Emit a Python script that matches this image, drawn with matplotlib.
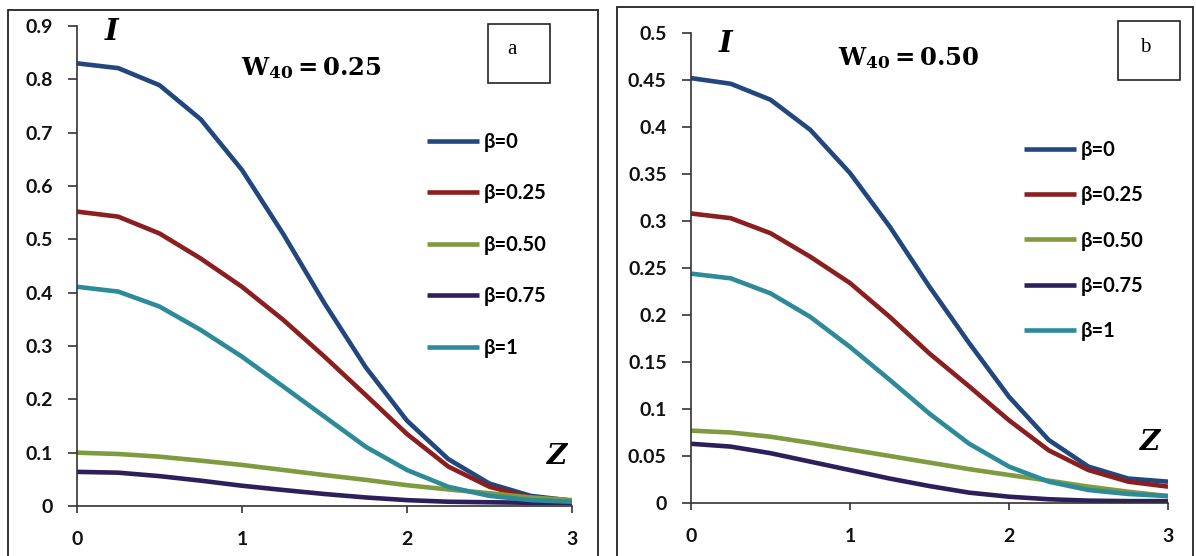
import numpy as np
import matplotlib.pyplot as plt
from matplotlib.patches import Rectangle
from matplotlib.ticker import FuncFormatter

plt.rcParams['mathtext.fontset'] = 'dejavuserif'

# values, z = 0 .. 3 in steps of 0.25
z = [0, 0.25, 0.5, 0.75, 1.0, 1.25, 1.5, 1.75, 2.0, 2.25, 2.5, 2.75, 3.0]
labels = ["β=0", "β=0.25", "β=0.50", "β=0.75", "β=1"]
colors = ['#22467e', '#8b1e1e', '#7e9b3f', '#2d1f5a', '#2d8a99']

# panel a: W40 = 0.25
a_b0 = [0.830, 0.821, 0.789, 0.725, 0.630, 0.510, 0.380, 0.260, 0.160, 0.088, 0.042, 0.019, 0.010]
a_b025 = [0.552, 0.5425, 0.511, 0.464, 0.411, 0.349, 0.280, 0.208, 0.135, 0.074, 0.036, 0.016, 0.010]
a_b050 = [0.100, 0.0975, 0.0925, 0.085, 0.077, 0.0675, 0.058, 0.049, 0.039, 0.031, 0.024, 0.016, 0.011]
a_b075 = [0.064, 0.0625, 0.056, 0.0475, 0.038, 0.030, 0.0225, 0.016, 0.011, 0.008, 0.007, 0.006, 0.006]
a_b1 = [0.411, 0.402, 0.374, 0.330, 0.280, 0.224, 0.1675, 0.111, 0.0675, 0.036, 0.019, 0.011, 0.008]

# panel b: W40 = 0.50
b_b0 = [0.452, 0.446, 0.429, 0.397, 0.351, 0.294, 0.230, 0.170, 0.113, 0.067, 0.0387, 0.026, 0.0227]
b_b025 = [0.308, 0.303, 0.287, 0.262, 0.234, 0.198, 0.159, 0.124, 0.088, 0.056, 0.035, 0.0227, 0.0174]
b_b050 = [0.077, 0.075, 0.0705, 0.064, 0.057, 0.050, 0.043, 0.036, 0.0298, 0.0238, 0.0174, 0.012, 0.0074]
b_b075 = [0.063, 0.060, 0.053, 0.044, 0.035, 0.026, 0.018, 0.011, 0.0067, 0.004, 0.0025, 0.002, 0.002]
b_b1 = [0.244, 0.239, 0.223, 0.198, 0.166, 0.131, 0.095, 0.063, 0.0387, 0.0227, 0.0138, 0.0096, 0.0074]

panels = [
    dict(series=[a_b0, a_b025, a_b050, a_b075, a_b1], ymax=0.9, ystep=0.1,
         title=r'$\mathbf{W_{40}=0.25}$', tag='a',
         pos=[77/1196, 1-506/556, 495/1196, 480/556],
         frame=(8, 10, 598), leg=(0.707, 0.78), lspace=1.57,
         tpos=(311, 68), ipos=(112, 32), zpos=(557, 457), box=(488, 24), tagpos=(512, 50)),
    dict(series=[b_b0, b_b025, b_b050, b_b075, b_b1], ymax=0.5, ystep=0.05,
         title=r'$\mathbf{W_{40}=0.50}$', tag='b',
         pos=[691/1196, 1-503/556, 477/1196, 470/556],
         frame=(617, 7, 1193), leg=(0.698, 0.772), lspace=1.25,
         tpos=(909, 58), ipos=(726, 43), zpos=(1150, 443), box=(1118, 21), tagpos=(1145, 48)),
]

W, H = 1196, 556
fig = plt.figure(figsize=(W/100, H/100), dpi=100)

for p in panels:
    # outer frame of the panel
    x0, y0, x1 = p['frame']
    fig.patches.append(Rectangle((x0/W, -0.05), (x1-x0)/W, 1.05-y0/H, transform=fig.transFigure,
                                 fill=False, edgecolor='#222222', lw=1.3))
    ax = fig.add_axes(p['pos'])
    for s, c, lab in zip(p['series'], colors, labels):
        ax.plot(z, s, color=c, lw=3.3, label=lab, solid_capstyle='butt', solid_joinstyle='round')
    ax.set_xlim(0, 3)
    ax.set_ylim(0, p['ymax'])
    ax.set_xticks([0, 1, 2, 3])
    ax.set_yticks(np.arange(0, p['ymax'] + 1e-9, p['ystep']))
    ax.yaxis.set_major_formatter(FuncFormatter(lambda v, pos: ('%.2f' % v).rstrip('0').rstrip('.') if v else '0'))
    for side in ['top', 'right']:
        ax.spines[side].set_visible(False)
    for side in ['left', 'bottom']:
        ax.spines[side].set_color('#333333')
        ax.spines[side].set_linewidth(1.2)
    ax.tick_params(axis='y', direction='out', length=6.5, width=1.2, pad=11, color='#333333')
    ax.tick_params(axis='x', direction='out', length=5, width=1.2, pad=13, color='#333333')
    for t in ax.get_xticklabels() + ax.get_yticklabels():
        t.set_fontfamily('Lato')
        t.set_fontweight('bold')
        t.set_fontsize(14)
        t.set_color('#111111')
    ax.set_facecolor('none')

    leg = ax.legend(loc='upper left', bbox_to_anchor=p['leg'], frameon=False, borderpad=0,
                    borderaxespad=0, handlelength=2.6, handletextpad=0.2, labelspacing=p['lspace'],
                    prop={'family': 'Lato', 'weight': 'bold', 'size': 14.5})

    fig.text(p['tpos'][0]/W, 1-p['tpos'][1]/H, p['title'], fontsize=17.5, ha='center', va='center')
    fig.text(p['ipos'][0]/W, 1-p['ipos'][1]/H, 'I', family='DejaVu Serif', style='italic',
             weight='bold', fontsize=21, ha='center', va='center')
    fig.text(p['zpos'][0]/W, 1-p['zpos'][1]/H, 'Z', family='DejaVu Serif', style='italic',
             weight='bold', fontsize=20, ha='center', va='center')
    bx, by = p['box']
    fig.patches.append(Rectangle((bx/W, 1-(by+59)/H), 62/W, 59/H, transform=fig.transFigure,
                                 fill=False, edgecolor='#222222', lw=1.2))
    fig.text(p['tagpos'][0]/W, 1-p['tagpos'][1]/H, p['tag'], family='Liberation Serif', fontsize=15,
             ha='center', va='center')

fig.savefig('out.png', dpi=100)
